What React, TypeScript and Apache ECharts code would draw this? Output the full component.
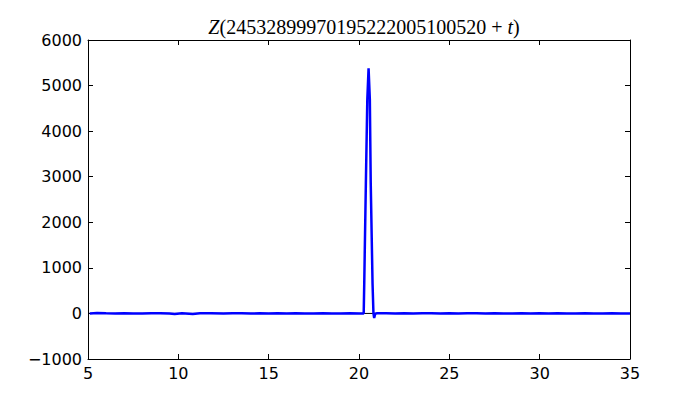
import React, { useEffect, useRef } from "react";
import * as echarts from "echarts";

const titleNumber = "24532899970195222005100520";

const times = [
  5.1, 5.5, 6.0, 6.5, 7.0, 7.5, 8.0, 8.5, 9.0, 9.5, 9.8, 10.2, 10.8, 11.2, 11.8, 12.5, 13.0,
  13.5, 14.0, 14.5, 15.0, 15.5, 16.0, 16.5, 17.0, 17.5, 18.0, 18.5, 19.0, 19.5, 20.0, 20.26,
  20.29, 20.38, 20.46, 20.53, 20.6, 20.65, 20.75, 20.8, 20.84, 20.9, 21.0, 21.5, 22.0, 22.5,
  23.0, 23.5, 24.0, 24.5, 25.0, 25.5, 26.0, 26.5, 27.0, 27.5, 28.0, 28.5, 29.0, 29.5, 30.0,
  30.5, 31.0, 31.5, 32.0, 32.5, 33.0, 33.5, 34.0, 34.5, 35.0,
];

const zValues = [
  0, 12, 2, -3, 5, 0, -4, 3, 6, -3, -15, 4, -12, 2, 5, -3, 2,
  4, -2, 3, 0, 4, -2, 2, 1, -3, 3, 1, -1, 4, 0, 0,
  650, 2850, 4700, 5380, 4700, 2850, 650, 0, -100, -5, 3, 4, -2, 3,
  -3, 2, 5, -2, 3, -4, 2, 4, -2, 3, 1, -3, 4, -2, 2,
  -3, 3, 1, -2, 4, 0, -2, 3, 1, 0,
];

const zeroLine = [[5, 0], [35, 0]];

const xMin = 5, xMax = 35, xStep = 5;
const yMin = -1000, yMax = 6000, yStep = 1000;

export default function App() {
  const ref = useRef<HTMLDivElement>(null);
  useEffect(() => {
    if (!ref.current) return;
    const chart = echarts.init(ref.current, null, { renderer: "svg" });
    const tickFont = { fontFamily: "DejaVu Sans", fontSize: 16, color: "#000" };
    const axisLine = { show: true, onZero: false, lineStyle: { color: "#000", width: 1 } };
    const axisTick = { show: true, inside: true, length: 5, lineStyle: { color: "#000", width: 1 } };
    const data = times.map((t, i) => [t, zValues[i]]);
    chart.setOption({
      animation: false,
      backgroundColor: "#fff",
      grid: { left: 88, right: 70, top: 40, bottom: 41, containLabel: false },
      title: {
        text: "{i|Z}{r|(" + titleNumber + " + }{i|t}{r|)}",
        left: 359,
        textAlign: "center",
        top: 12,
        textStyle: {
          fontWeight: "normal",
          rich: {
            i: { fontFamily: "Liberation Serif", fontStyle: "italic", fontWeight: "normal", fontSize: 20, color: "#000" },
            r: { fontFamily: "Liberation Serif", fontWeight: "normal", fontSize: 20, color: "#000" },
          },
        },
      },
      xAxis: [
        {
          type: "value", min: xMin, max: xMax, interval: xStep, position: "bottom",
          axisLine, axisTick, splitLine: { show: false },
          axisLabel: { ...tickFont, margin: 6 },
        },
        {
          type: "value", min: xMin, max: xMax, interval: xStep, position: "top",
          axisLine, axisTick, splitLine: { show: false }, axisLabel: { show: false },
        },
      ],
      yAxis: [
        {
          type: "value", min: yMin, max: yMax, interval: yStep, position: "left",
          axisLine, axisTick, splitLine: { show: false },
          axisLabel: { ...tickFont, margin: 6, formatter: (v: number) => String(v).replace("-", "\u2212") },
        },
        {
          type: "value", min: yMin, max: yMax, interval: yStep, position: "right",
          axisLine, axisTick, splitLine: { show: false }, axisLabel: { show: false },
        },
      ],
      series: [
        {
          type: "line", data: zeroLine, symbol: "none", z: 1,
          lineStyle: { color: "#000", width: 1 }, silent: true,
        },
        {
          type: "line", data, symbol: "none", z: 2,
          lineStyle: { color: "#0000ff", width: 2.5 },
        },
      ],
    });
    return () => chart.dispose();
  }, []);
  return (
    <div
      ref={ref}
      style={{ position: "fixed", left: 0, top: 0, width: 700, height: 400, background: "#fff" }}
    />
  );
}
